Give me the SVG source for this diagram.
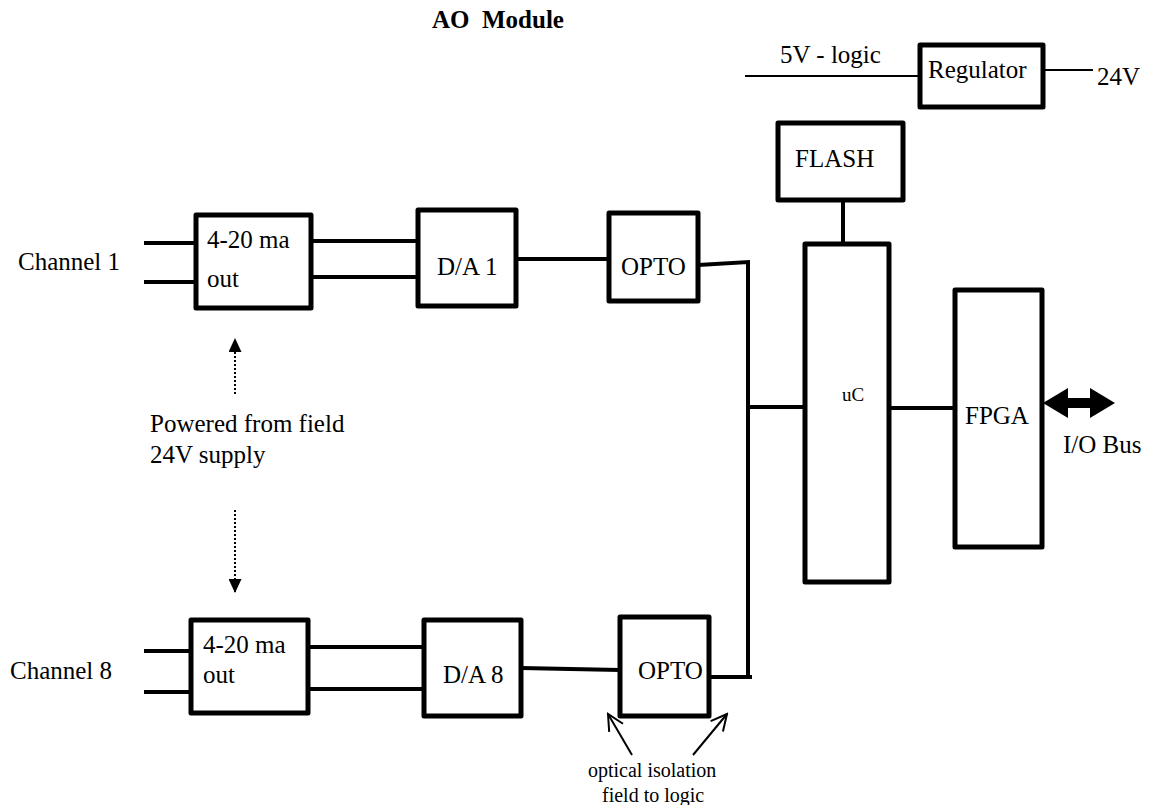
<svg xmlns="http://www.w3.org/2000/svg" width="1156" height="805" viewBox="0 0 1156 805">
<style>
text{font-family:"Liberation Serif","Times New Roman",serif;font-size:25px;fill:#000}
.box{fill:#fff;stroke:#000;stroke-width:5;stroke-linejoin:round}
.w{stroke:#000;stroke-width:4;fill:none}
.thin{stroke:#000;stroke-width:2;fill:none}
.dot{stroke:#000;stroke-width:2;stroke-dasharray:2 2;fill:none}
.title{font-weight:bold}
.sm{font-size:20px}
</style>
<defs>
<marker id="tri" viewBox="0 0 14 13" refX="14" refY="6.5" markerWidth="14" markerHeight="13" markerUnits="userSpaceOnUse" orient="auto">
<path d="M0,0 L14,6.5 L0,13 Z" fill="#000"/>
</marker>
<marker id="open" viewBox="0 0 20 20" refX="18" refY="10" markerWidth="20" markerHeight="20" markerUnits="userSpaceOnUse" orient="auto">
<path d="M2,2 L18,10 L2,18" fill="none" stroke="#000" stroke-width="2"/>
</marker>
</defs>

<text class="title" x="432" y="28" xml:space="preserve">AO  Module</text>

<g id="connectors">
<line class="thin" x1="745" y1="76" x2="920" y2="76"/>
<line class="thin" x1="1043" y1="70" x2="1093" y2="70"/>
<line class="w" x1="843" y1="200" x2="843" y2="244"/>
<line class="w" x1="144" y1="243" x2="196" y2="243"/>
<line class="w" x1="144" y1="282" x2="196" y2="282"/>
<line class="w" x1="311" y1="241" x2="418" y2="241"/>
<line class="w" x1="311" y1="277" x2="418" y2="277"/>
<line class="w" x1="516" y1="259" x2="609" y2="259"/>
<polyline class="w" points="698,265 748,262 748,677"/>
<line class="w" x1="748" y1="407" x2="805" y2="407"/>
<line class="w" x1="889" y1="408" x2="955" y2="408"/>
<line class="w" x1="144" y1="651" x2="191" y2="651"/>
<line class="w" x1="144" y1="692" x2="191" y2="692"/>
<line class="w" x1="308" y1="647" x2="424" y2="647"/>
<line class="w" x1="308" y1="689" x2="424" y2="689"/>
<line class="w" x1="521" y1="668" x2="620" y2="670"/>
<line class="w" x1="709" y1="677" x2="752" y2="677"/>
<line class="dot" x1="235" y1="394" x2="235" y2="338" marker-end="url(#tri)"/>
<line class="dot" x1="235" y1="510" x2="235" y2="593" marker-end="url(#tri)"/>
<line class="thin" x1="632" y1="755" x2="608" y2="714" marker-end="url(#open)"/>
<line class="thin" x1="693" y1="755" x2="727" y2="714" marker-end="url(#open)"/>
<path d="M1043,403 L1068,388 L1068,398 L1090,398 L1090,388 L1115,403 L1090,418 L1090,408 L1068,408 L1068,418 Z" fill="#000"/>
</g>

<g id="regulator">
<rect class="box" x="920" y="45" width="123" height="62"/>
<text x="928" y="78">Regulator</text>
</g>
<text x="780" y="63">5V - logic</text>
<text x="1097" y="85">24V</text>

<g id="flash">
<rect class="box" x="778" y="123" width="125" height="77"/>
<text x="795" y="167">FLASH</text>
</g>

<g id="uc">
<rect class="box" x="805" y="244" width="84" height="338"/>
<text x="842" y="401" style="font-size:19px">uC</text>
</g>

<g id="fpga">
<rect class="box" x="955" y="290" width="87" height="257"/>
<text x="965" y="424">FPGA</text>
</g>
<text x="1063" y="453">I/O Bus</text>

<text x="18" y="270">Channel 1</text>
<g id="out1">
<rect class="box" x="196" y="215" width="115" height="93"/>
<text x="207" y="248">4-20 ma</text>
<text x="207" y="287">out</text>
</g>
<g id="da1">
<rect class="box" x="418" y="210" width="98" height="96"/>
<text x="437" y="275">D/A 1</text>
</g>
<g id="opto1">
<rect class="box" x="609" y="213" width="89" height="88"/>
<text x="621" y="275">OPTO</text>
</g>

<text x="150" y="432">Powered from field</text>
<text x="150" y="463">24V supply</text>

<text x="10" y="679">Channel 8</text>
<g id="out8">
<rect class="box" x="191" y="620" width="117" height="93"/>
<text x="203" y="653">4-20 ma</text>
<text x="203" y="683">out</text>
</g>
<g id="da8">
<rect class="box" x="424" y="620" width="97" height="96"/>
<text x="443" y="683">D/A 8</text>
</g>
<g id="opto8">
<rect class="box" x="620" y="617" width="89" height="99"/>
<text x="638" y="679">OPTO</text>
</g>

<text class="sm" x="588" y="777">optical isolation</text>
<text class="sm" x="602" y="802">field to logic</text>
</svg>
